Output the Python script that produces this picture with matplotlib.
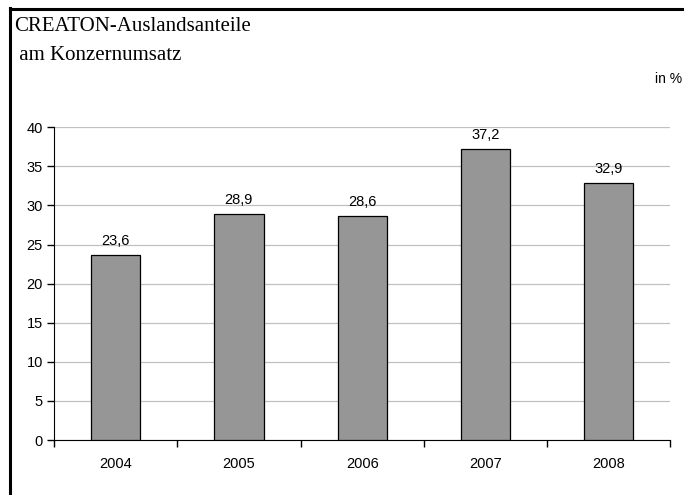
import matplotlib.pyplot as plt
from matplotlib.lines import Line2D

years = ['2004', '2005', '2006', '2007', '2008']
shares = [23.6, 28.9, 28.6, 37.2, 32.9]
labels = ['23,6', '28,9', '28,6', '37,2', '32,9']
yticks = [0, 5, 10, 15, 20, 25, 30, 35, 40]

fig = plt.figure(figsize=(6.84, 4.95), dpi=100)
ax = fig.add_axes([0.079, 0.111, 0.901, 0.632])

x = range(len(years))
bars = ax.bar(x, shares, width=0.4, color='#969696', edgecolor='black', linewidth=0.9, zorder=3)
for xi, v, lab in zip(x, shares, labels):
    ax.text(xi, v + 0.9, lab, ha='center', va='bottom', fontsize=10.5, family='Liberation Sans')

ax.set_xlim(-0.5, len(years) - 0.5)
ax.set_ylim(0, 40)
ax.set_yticks(yticks)
ax.set_yticklabels([str(t) for t in yticks], family='Liberation Sans', fontsize=10.5)
ax.set_xticks([i + 0.5 for i in range(-1, len(years))])
ax.set_xticklabels([])
ax.set_xticks(list(x), minor=True)
ax.set_xticklabels(years, minor=True, family='Liberation Sans', fontsize=10.5)
ax.tick_params(axis='x', which='minor', length=0, pad=12)
ax.tick_params(axis='x', which='major', length=5, direction='out', width=1)
ax.tick_params(axis='y', length=5, direction='out', width=1, pad=3)
ax.yaxis.grid(True, color='#c0c0c0', linewidth=0.9, zorder=0)
ax.set_axisbelow(True)
ax.spines['top'].set_visible(False)
ax.spines['right'].set_visible(False)

# frame lines (top and left of the figure)
fig.add_artist(Line2D([9.5 / 684, 9.5 / 684], [0, 1 - 8 / 495], color='black', linewidth=2.2))
fig.add_artist(Line2D([9.5 / 684, 1], [1 - 9 / 495, 1 - 9 / 495], color='black', linewidth=2.2))

fig.text(14 / 684, 1 - 31 / 495, 'CREATON-Auslandsanteile', family='Liberation Serif', fontsize=15, va='baseline')
fig.text(14 / 684, 1 - 60 / 495, ' am Konzernumsatz', family='Liberation Serif', fontsize=15, va='baseline')
fig.text(682 / 684, 1 - 79 / 495, 'in %', family='Liberation Sans', fontsize=10, ha='right', va='center')

fig.savefig('out.png', dpi=100)
